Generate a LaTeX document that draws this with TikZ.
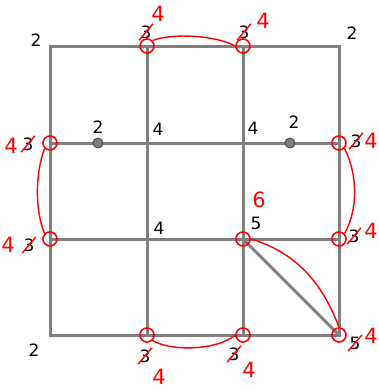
\documentclass[tikz,border=0pt]{standalone}
\usepackage{fontspec}
\setmainfont{DejaVu Sans}

\begin{document}
\begin{tikzpicture}[
      x=1pt, y=-1pt,
      grid/.style={draw=gray, line width=3pt},
      pin/.style={circle, fill=gray, draw=darkgray, line width=0.8pt, inner sep=0pt, minimum size=10pt},
      val/.style={font=\fontsize{17}{17}\selectfont, inner sep=0pt},
      fix/.style={font=\fontsize{21}{21}\selectfont, text=red, inner sep=0pt},
      ring/.style={circle, draw=red, line width=1.6pt, inner sep=0pt, minimum size=14pt},
      link/.style={draw=red, line width=1.4pt},
      strike/.style={draw=red, line width=1.4pt, shorten <=-2pt, shorten >=-2pt}
    ]
      \useasboundingbox (0,0) rectangle (378,391);

      \foreach \i/\x in {0/50,1/147,2/243,3/339}
        \foreach \j/\y in {0/46,1/143,2/239,3/335}
          \coordinate (v\i\j) at (\x,\y);

      \draw[grid] (v00) rectangle (v33);
      \foreach \k in {1,2} {
        \draw[grid] (v0\k) -- (v3\k);
        \draw[grid] (v\k0) -- (v\k3);
      }
      \draw[grid] (v22) -- (v33);

      \node[pin] (dotL) at (98,143) {};
      \node[pin] (dotR) at (290,143) {};

      % numbers
      \node[val] (c00) at (36,40) {2};
      \node[val] (c10) at (146,32) {3};
      \node[val] (c20) at (244,32) {3};
      \node[val] (c30) at (352,33) {2};
      \node[val] (dL) at (98,127) {2};
      \node[val] (c11) at (158,129) {4};
      \node[val] (c21) at (253,128) {4};
      \node[val] (dR) at (294,122) {2};
      \node[val] (c01) at (28,144) {3};
      \node[val] (c31) at (356,141) {3};
      \node[val] (c02) at (29,245) {3};
      \node[val] (c12) at (159,228) {4};
      \node[val] (c22) at (256,223) {5};
      \node[val] (c32) at (354,236) {3};
      \node[val] (c03) at (34,350) {2};
      \node[val] (c13) at (145,356) {3};
      \node[val] (c23) at (234,354) {3};
      \node[val] (c33) at (355,343) {5};

      \foreach \n in {c10,c20,c01,c31,c02,c32,c13,c23,c33}
        \draw[strike] (\n.south west) -- (\n.north east);

      % corrections
      \node[fix] (f10) at (158,14) {4};
      \node[fix] (f20) at (263,21) {4};
      \node[fix] (f01) at (11,146) {4};
      \node[fix] (f31) at (371,141) {4};
      \node[fix] (f02) at (8,245) {4};
      \node[fix] (f32) at (371,231) {4};
      \node[fix] (f22) at (259,200) {6};
      \node[fix] (f13) at (159,377) {4};
      \node[fix] (f23) at (249,370) {4};
      \node[fix] (f33) at (371,336) {4};

      \foreach \v in {10,20,01,31,02,22,32,13,23,33}
        \node[ring] (r\v) at (v\v) {};

      \draw[link] (r10.north east) .. controls (172,33) and (215,35) .. (r20.west);
      \draw[link] (r01.south west) .. controls (35,175) and (35,210) .. (r02.north west);
      \draw[link] (r31.south east) .. controls (358,175) and (358,210) .. (r32.north east);
      \draw[link] (r13.south east) .. controls (172,352) and (218,350) .. (r23.west);
      \draw[link] (r22.east) .. controls (295,252) and (322,282) .. (r33.north);
    \end{tikzpicture}
\end{document}
